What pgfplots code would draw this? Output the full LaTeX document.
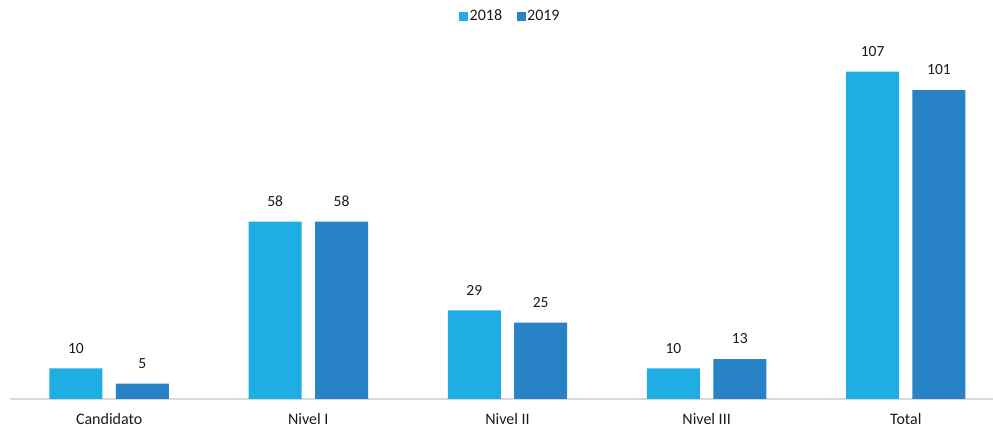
\documentclass[border=0pt]{standalone}
\usepackage{pgfplots}
\pgfplotsset{compat=1.18}
\usepackage{fontspec}
\setmainfont{Carlito}
\definecolor{c18}{HTML}{1FAEE3}
\definecolor{c19}{HTML}{2882C6}
\definecolor{txt}{HTML}{1A1A1A}
\definecolor{axl}{HTML}{D9D9D9}
\begin{document}
\begin{tikzpicture}
\path[use as bounding box] (0,0) rectangle (993pt,430pt);
\begin{axis}[
  at={(9.6pt,31pt)}, anchor=south west,
  scale only axis, width=983.4pt, height=367.1pt,
  xmin=-0.5, xmax=4.438, ymin=0, ymax=120,
  ybar=13.4pt, bar width=53pt,
  axis x line=bottom, axis y line=none,
  x axis line style={draw=axl, line width=1.2pt, -},
  xtick={0,1,2,3,4},
  xticklabels={Candidato, Nivel I, Nivel II, Nivel III, Total},
  major tick length=0pt, ytick=\empty,
  xticklabel style={font=\fontsize{16}{19}\selectfont, text=txt, inner sep=0pt, yshift=-14pt},
  nodes near coords,
  every node near coord/.append style={font=\fontsize{15.5}{18}\selectfont, text=txt, inner sep=0pt, yshift=15pt, anchor=south},
  /pgf/number format/assume math mode=true,
  legend columns=2,
  legend style={at={(axis description cs:0.509,1.043)}, anchor=center, draw=none, fill=none,
    font=\fontsize{16}{19}\selectfont, text=txt, nodes={inner sep=1.5pt},
    /tikz/every even column/.append style={column sep=13pt}},
  legend image code/.code={\fill[#1] (0pt,-4.5pt) rectangle (9pt,4.5pt);},
  clip=false,
]
%% 2018
\addplot[fill=c18, draw=none] coordinates {(0,10) (1,58) (2,29) (3,10) (4,107)};
%% 2019
\addplot[fill=c19, draw=none] coordinates {(0,5) (1,58) (2,25) (3,13) (4,101)};
\legend{2018, 2019}
\end{axis}
\end{tikzpicture}
\end{document}
